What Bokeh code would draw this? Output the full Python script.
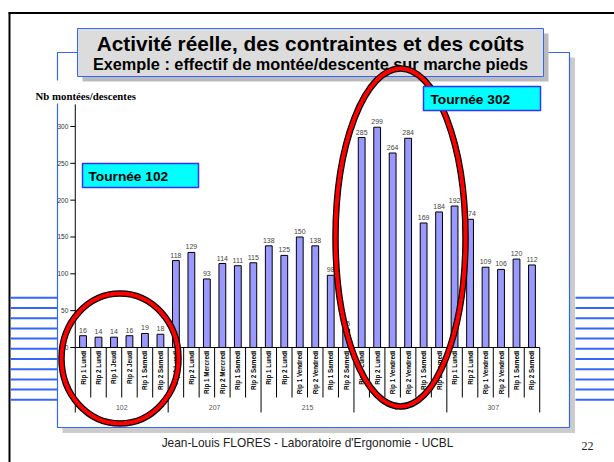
import math
from bokeh.plotting import figure
from bokeh.models import Range1d, FactorRange, LinearScale, ColumnDataSource
from bokeh.core.properties import value
from bokeh.embed import file_html
from bokeh.resources import INLINE

# ---------------- data ----------------
groups = ["102", "207", "215", "302", "307"]
labels_102 = ["Rip 1 Lundi", "Rip 2 Lundi", "Rip 1 Jeudi", "Rip 2 Jeudi", "Rip 1 Samedi", "Rip 2 Samedi"]
labels_207 = ["Rip 1 Lundi", "Rip 2 Lundi", "Rip 1 Mercredi", "Rip 2 Mercredi", "Rip 1 Samedi", "Rip 2 Samedi"]
labels_215 = ["Rip 1 Lundi", "Rip 2 Lundi", "Rip 1 Vendredi", "Rip 2 Vendredi", "Rip 1 Samedi", "Rip 2 Samedi"]
labels_302 = ["Rip 1 Lundi", "Rip 2 Lundi", "Rip 1 Vendredi", "Rip 2 Vendredi", "Rip 1 Samedi", "Rip 2 Samedi"]
labels_307 = ["Rip 1 Lundi", "Rip 2 Lundi", "Rip 1 Vendredi", "Rip 2 Vendredi", "Rip 1 Samedi", "Rip 2 Samedi"]
values_102 = [16, 14, 14, 16, 19, 18]
values_207 = [118, 129, 93, 114, 111, 115]
values_215 = [138, 125, 150, 138, 98, 25]
values_302 = [285, 299, 264, 284, 169, 184]
values_307 = [192, 174, 109, 106, 120, 112]
y_ticks = [0, 50, 100, 150, 200, 250, 300]
y_max = 330

title_1 = "Activité réelle, des contraintes et des coûts"
title_2 = "Exemple : effectif de montée/descente sur marche pieds"
y_title = "Nb montées/descentes"
footer = "Jean-Louis FLORES - Laboratoire d'Ergonomie - UCBL"
page_no = "22"

all_labels = [labels_102, labels_207, labels_215, labels_302, labels_307]
all_values = [values_102, values_207, values_215, values_302, values_307]
factors = [(g, lab) for g, labs in zip(groups, all_labels) for lab in labs]
vals = [v for vs in all_values for v in vs]

# ---------------- figure ----------------
W, H = 614, 462
PAD = 4.83
UNIT = W / (len(factors) + 2 * PAD)


def X(px):
    """slide pixel x -> synthetic coordinate of the categorical range (decorations only)"""
    return px / UNIT - PAD


def DX(px):
    return px / UNIT


p = figure(width=W, height=H, output_backend="svg", toolbar_location=None,
           x_range=FactorRange(*factors, group_padding=0, factor_padding=0,
                               range_padding=PAD, range_padding_units="absolute"),
           y_range=Range1d(H, 0),
           x_axis_type=None, y_axis_type=None, min_border=0,
           outline_line_color=None, background_fill_color="white",
           border_fill_color="white")
p.extra_y_ranges = {"val": Range1d(-156.1, 471.0)}
p.extra_y_scales = {"val": LinearScale()}

ARIAL = value("Liberation Sans")
TIMES = value("Liberation Serif")
BLUE = "#3366FF"

# slide frame
p.segment(x0=[X(9), X(8)], y0=[12, 12.5], x1=[X(9), X(614)], y1=[462, 12.5],
          line_color="black", line_width=2)

# panel with shadow
p.quad(left=[X(62)], right=[X(574.5)], top=[57], bottom=[432.5], fill_color="#CCCCCC", line_color=None)
p.quad(left=[X(57)], right=[X(569)], top=[52], bottom=[427], fill_color="white",
       line_color=BLUE, line_width=1.2)

# side stripes
stripe_y = [297.3 + 10.2 * k for k in range(11)]
p.segment(x0=[X(10)] * 11, x1=[X(57)] * 11, y0=stripe_y, y1=stripe_y, line_color=BLUE, line_width=2)
p.segment(x0=[X(575)] * 11, x1=[X(614)] * 11, y0=stripe_y, y1=stripe_y, line_color=BLUE, line_width=2)

# title box
p.quad(left=[X(82)], right=[X(548)], top=[33], bottom=[81], fill_color="#BBBBBB", line_color=None)
p.quad(left=[X(77)], right=[X(543)], top=[28], bottom=[76], fill_color="#DCDCDC",
       line_color=BLUE, line_width=1)
p.text(x=[X(310)], y=[43], text=[title_1], text_font=ARIAL, text_font_style="bold",
       text_font_size="20.8px", text_align="center", text_baseline="middle", text_color="black")
p.text(x=[X(310)], y=[63], text=[title_2], text_font=ARIAL, text_font_style="bold",
       text_font_size="16.3px", text_align="center", text_baseline="middle", text_color="black")

# y title with white backing
p.quad(left=[X(50)], right=[X(64)], top=[80], bottom=[103], fill_color="white", line_color=None)
p.text(x=[X(35)], y=[95], text=[y_title], text_font=TIMES, text_font_style="bold",
       text_font_size="10.8px", text_align="left", text_baseline="middle", text_color="black")

# ---------------- chart ----------------
first = factors[0]
last = factors[-1]
# y axis
p.segment(x0=[(first[0], first[1], -0.5)], x1=[(first[0], first[1], -0.5)], y0=[0], y1=[y_max],
          y_range_name="val", line_color="black", line_width=1)
p.segment(x0=[(first[0], first[1], -0.82)] * len(y_ticks), x1=[(first[0], first[1], -0.5)] * len(y_ticks),
          y0=y_ticks, y1=y_ticks, y_range_name="val", line_color="black", line_width=1)
p.text(x=[(first[0], first[1], -0.95)] * len(y_ticks), y=y_ticks, text=[str(t) for t in y_ticks],
       y_range_name="val", text_font=ARIAL, text_font_size="6.5px",
       text_align="right", text_baseline="middle", text_color="#333333")

# bars
src = ColumnDataSource(dict(x=factors, top=vals, lab=[str(v) for v in vals]))
p.vbar(x="x", top="top", bottom=0, width=0.44, source=src, y_range_name="val",
       fill_color="#9999FF", line_color="black", line_width=1)
p.text(x="x", y="top", text="lab", source=src, y_range_name="val",
       text_font=ARIAL, text_font_size="7px", text_align="center", text_baseline="bottom",
       y_offset=-3, text_color="#444444")

# x axis line
p.segment(x0=[(first[0], first[1], -0.5)], x1=[(last[0], last[1], 0.5)], y0=[0], y1=[0],
          y_range_name="val", line_color="black", line_width=1)

# category separators (slide y below the axis)
sep_x, sep_y1 = [], []
for g, labs in zip(groups, all_labels):
    for k, lab in enumerate(labs):
        sep_x.append((g, lab, -0.5))
        sep_y1.append(412 if k == 0 else 397)
sep_x.append((last[0], last[1], 0.5))
sep_y1.append(412)
p.segment(x0=sep_x, x1=sep_x, y0=[347] * len(sep_x), y1=sep_y1, line_color="black", line_width=1)

# category labels (rotated)
p.text(x=factors, y=[350] * len(factors), text=[f[1] for f in factors],
       angle=math.pi / 2, text_font=ARIAL, text_font_size="6.3px", text_font_style="bold",
       text_align="right", text_baseline="middle", text_color="black")
# group labels
p.text(x=groups, y=[407] * len(groups), text=groups,
       text_font=ARIAL, text_font_size="7px", text_align="center", text_baseline="middle",
       text_color="#555555")

# ---------------- highlight ellipses ----------------
for lw, col in ((6.5, "black"), (4, "#FF0000")):
    p.ellipse(x=[X(119.5), X(400)], y=[358, 237], width=[DX(117), DX(130)], height=[130, 338],
              fill_color=None, line_color=col, line_width=lw)

# tournée boxes
p.quad(left=[X(82), X(423)], right=[X(198), X(540)], top=[163, 86], bottom=[187, 110],
       fill_color="#00FFFF", line_color="#3333FF", line_width=1.5)
p.text(x=[X(88), X(430)], y=[175.5, 98.5], text=["Tournée 102", "Tournée 302"], text_font=ARIAL,
       text_font_style="bold", text_font_size="13.7px", text_align="left", text_baseline="middle",
       text_color="black")

# footer
p.text(x=[X(307)], y=[442], text=[footer], text_font=ARIAL, text_font_size="11.9px",
       text_align="center", text_baseline="middle", text_color="#222222")
p.text(x=[X(587)], y=[445], text=[page_no], text_font=TIMES, text_font_size="12px",
       text_align="center", text_baseline="middle", text_color="#222222")

open("out.html", "w").write(file_html(p, INLINE))
